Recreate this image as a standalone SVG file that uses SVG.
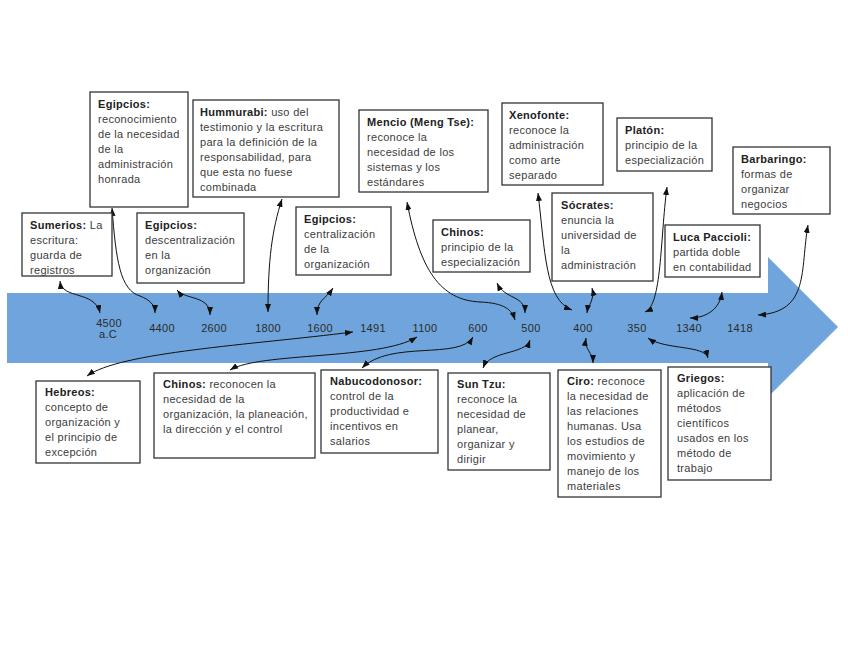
<svg xmlns="http://www.w3.org/2000/svg" width="848" height="655" viewBox="0 0 848 655">
<defs>
<marker id="ah" viewBox="0 0 8 6" refX="8" refY="3" markerWidth="8" markerHeight="6" markerUnits="userSpaceOnUse" orient="auto-start-reverse"><path d="M0,0 L8,3 L0,6 z" fill="#111"/></marker>
</defs>
<style>
.box{fill:#fff;stroke:#333;stroke-width:1.3}
text{font-family:"Liberation Sans",Arial,sans-serif;font-size:11px;fill:#3c3c3c;letter-spacing:0.3px}
.b{font-weight:bold;fill:#222}
.n{text-anchor:middle;fill:#2b2b2b}
.c{fill:none;stroke:#111;stroke-width:1;marker-start:url(#ah);marker-end:url(#ah)}
</style>
<rect width="848" height="655" fill="#fff"/>
<path id="band" d="M7,293 L768,293 L768,257 L838,327 L768,397 L768,363 L7,363 z" fill="#6fa5dc"/>
<g id="years">
<text class="n" x="109" y="327">4500</text>
<text class="n" x="108" y="338">a.C</text>
<text class="n" x="162" y="332">4400</text>
<text class="n" x="214" y="332">2600</text>
<text class="n" x="268" y="332">1800</text>
<text class="n" x="320" y="332">1600</text>
<text class="n" x="373" y="332">1491</text>
<text class="n" x="425" y="332">1100</text>
<text class="n" x="478" y="332">600</text>
<text class="n" x="531" y="332">500</text>
<text class="n" x="583" y="332">400</text>
<text class="n" x="637" y="332">350</text>
<text class="n" x="689" y="332">1340</text>
<text class="n" x="740" y="332">1418</text>
</g>
<g id="connectors">
<path class="c" d="M60,281 C62,300 95,290 100,313"/>
<path class="c" d="M112,208 C116,260 120,290 140,296 C150,300 155,305 155,313"/>
<path class="c" d="M177,290 C185,300 210,295 210,315"/>
<path class="c" d="M282,199 C272,230 268,260 268,312"/>
<path class="c" d="M333,288 C325,300 317,300 317,315"/>
<path class="c" d="M87,376 C120,352 250,345 353,332"/>
<path class="c" d="M230,370 C260,352 380,360 417,337"/>
<path class="c" d="M362,368 C390,340 460,360 473,337"/>
<path class="c" d="M407,202 C420,270 440,300 480,302 C505,303 512,310 515,320"/>
<path class="c" d="M497,283 C505,300 525,295 525,313"/>
<path class="c" d="M530,340 C525,355 490,350 483,368"/>
<path class="c" d="M538,193 C545,250 545,300 572,310"/>
<path class="c" d="M592,288 C595,300 588,305 587,313"/>
<path class="c" d="M586,338 C584,350 593,352 593,363"/>
<path class="c" d="M667,187 C660,240 662,305 645,312"/>
<path class="c" d="M722,292 C720,310 705,318 690,318"/>
<path class="c" d="M808,225 C800,270 810,312 758,315"/>
<path class="c" d="M648,338 C665,350 705,345 708,358"/>
</g>
<g id="egipcios1"><rect class="box" x="90" y="92" width="98" height="115"/>
<text x="98" y="108"><tspan class="b">Egipcios:</tspan><tspan x="98" dy="15">reconocimiento</tspan><tspan x="98" dy="15">de la necesidad</tspan><tspan x="98" dy="15">de la</tspan><tspan x="98" dy="15">administración</tspan><tspan x="98" dy="15">honrada</tspan></text></g>
<g id="sumerios"><rect class="box" x="22" y="213" width="90" height="63"/>
<text x="30" y="229"><tspan class="b">Sumerios:</tspan> La<tspan x="30" dy="15">escritura:</tspan><tspan x="30" dy="15">guarda de</tspan><tspan x="30" dy="15">registros</tspan></text></g>
<g id="egipcios2"><rect class="box" x="137" y="213" width="107" height="70"/>
<text x="145" y="229"><tspan class="b">Egipcios:</tspan><tspan x="145" dy="15">descentralización</tspan><tspan x="145" dy="15">en la</tspan><tspan x="145" dy="15">organización</tspan></text></g>
<g id="hummurabi"><rect class="box" x="193" y="100" width="146" height="97"/>
<text x="200" y="116"><tspan class="b">Hummurabi:</tspan> uso del<tspan x="200" dy="15">testimonio y la escritura</tspan><tspan x="200" dy="15">para la definición de la</tspan><tspan x="200" dy="15">responsabilidad, para</tspan><tspan x="200" dy="15">que esta no fuese</tspan><tspan x="200" dy="15">combinada</tspan></text></g>
<g id="egipcios3"><rect class="box" x="296" y="207" width="95" height="68"/>
<text x="304" y="223"><tspan class="b">Egipcios:</tspan><tspan x="304" dy="15">centralización</tspan><tspan x="304" dy="15">de la</tspan><tspan x="304" dy="15">organización</tspan></text></g>
<g id="mencio"><rect class="box" x="359" y="110" width="129" height="82"/>
<text x="367" y="126"><tspan class="b">Mencio (Meng Tse):</tspan><tspan x="367" dy="15">reconoce la</tspan><tspan x="367" dy="15">necesidad de los</tspan><tspan x="367" dy="15">sistemas y los</tspan><tspan x="367" dy="15">estándares</tspan></text></g>
<g id="chinos1"><rect class="box" x="433" y="220" width="97" height="52"/>
<text x="441" y="236"><tspan class="b">Chinos:</tspan><tspan x="441" dy="15">principio de la</tspan><tspan x="441" dy="15">especialización</tspan></text></g>
<g id="xenofonte"><rect class="box" x="502" y="103" width="101" height="82"/>
<text x="509" y="119"><tspan class="b">Xenofonte:</tspan><tspan x="509" dy="15">reconoce la</tspan><tspan x="509" dy="15">administración</tspan><tspan x="509" dy="15">como arte</tspan><tspan x="509" dy="15">separado</tspan></text></g>
<g id="platon"><rect class="box" x="617" y="118" width="95" height="53"/>
<text x="625" y="134"><tspan class="b">Platón:</tspan><tspan x="625" dy="15">principio de la</tspan><tspan x="625" dy="15">especialización</tspan></text></g>
<g id="socrates"><rect class="box" x="552" y="193" width="101" height="88"/>
<text x="561" y="209"><tspan class="b">Sócrates:</tspan><tspan x="561" dy="15">enuncia la</tspan><tspan x="561" dy="15">universidad de</tspan><tspan x="561" dy="15">la</tspan><tspan x="561" dy="15">administración</tspan></text></g>
<g id="paccioli"><rect class="box" x="665" y="225" width="95" height="52"/>
<text x="673" y="241"><tspan class="b">Luca Paccioli:</tspan><tspan x="673" dy="15">partida doble</tspan><tspan x="673" dy="15">en contabilidad</tspan></text></g>
<g id="barbaringo"><rect class="box" x="733" y="147" width="97" height="67"/>
<text x="741" y="163"><tspan class="b">Barbaringo:</tspan><tspan x="741" dy="15">formas de</tspan><tspan x="741" dy="15">organizar</tspan><tspan x="741" dy="15">negocios</tspan></text></g>
<g id="hebreos"><rect class="box" x="36" y="381" width="104" height="82"/>
<text x="45" y="396"><tspan class="b">Hebreos:</tspan><tspan x="45" dy="15">concepto de</tspan><tspan x="45" dy="15">organización y</tspan><tspan x="45" dy="15">el principio de</tspan><tspan x="45" dy="15">excepción</tspan></text></g>
<g id="chinos2"><rect class="box" x="154" y="373" width="161" height="85"/>
<text x="163" y="388"><tspan class="b">Chinos:</tspan> reconocen la<tspan x="163" dy="15">necesidad de la</tspan><tspan x="163" dy="15">organización, la planeación,</tspan><tspan x="163" dy="15">la dirección y el control</tspan></text></g>
<g id="nabucodonosor"><rect class="box" x="321" y="370" width="117" height="83"/>
<text x="330" y="385"><tspan class="b">Nabucodonosor:</tspan><tspan x="330" dy="15">control de la</tspan><tspan x="330" dy="15">productividad e</tspan><tspan x="330" dy="15">incentivos en</tspan><tspan x="330" dy="15">salarios</tspan></text></g>
<g id="suntzu"><rect class="box" x="448" y="373" width="102" height="97"/>
<text x="457" y="388"><tspan class="b">Sun Tzu:</tspan><tspan x="457" dy="15">reconoce la</tspan><tspan x="457" dy="15">necesidad de</tspan><tspan x="457" dy="15">planear,</tspan><tspan x="457" dy="15">organizar y</tspan><tspan x="457" dy="15">dirigir</tspan></text></g>
<g id="ciro"><rect class="box" x="558" y="370" width="103" height="127"/>
<text x="567" y="385"><tspan class="b">Ciro:</tspan> reconoce<tspan x="567" dy="15">la necesidad de</tspan><tspan x="567" dy="15">las relaciones</tspan><tspan x="567" dy="15">humanas. Usa</tspan><tspan x="567" dy="15">los estudios de</tspan><tspan x="567" dy="15">movimiento y</tspan><tspan x="567" dy="15">manejo de los</tspan><tspan x="567" dy="15">materiales</tspan></text></g>
<g id="griegos"><rect class="box" x="668" y="367" width="103" height="113"/>
<text x="677" y="382"><tspan class="b">Griegos:</tspan><tspan x="677" dy="15">aplicación de</tspan><tspan x="677" dy="15">métodos</tspan><tspan x="677" dy="15">científicos</tspan><tspan x="677" dy="15">usados en los</tspan><tspan x="677" dy="15">método de</tspan><tspan x="677" dy="15">trabajo</tspan></text></g>
</svg>
